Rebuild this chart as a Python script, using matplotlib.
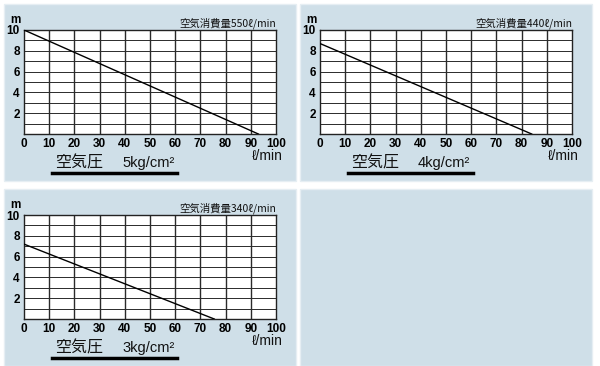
import matplotlib
matplotlib.use('Agg')
import matplotlib.pyplot as plt
from matplotlib.patches import Rectangle
from matplotlib.lines import Line2D

plt.rcParams['font.family'] = ['Noto Sans CJK JP', 'DejaVu Sans']

# data
flow_ends = [93, 84, 75.5]          # l/min where head reaches 0
head_starts = [10, 8.7, 7.2]        # m at 0 l/min
air_use = ['550', '440', '340']     # air consumption l/min
air_pressure = ['5', '4', '3']      # kg/cm2
x_ticks = [0, 10, 20, 30, 40, 50, 60, 70, 80, 90, 100]
y_ticks = [2, 4, 6, 8, 10]

W, H = 600, 366
fig = plt.figure(figsize=(W / 100, H / 100), dpi=100)
fig.patch.set_facecolor('white')

bg = '#cfdfe8'
# panel positions in pixels (left, top)
panels = [(4, 4), (300, 4), (4, 189), (300, 189)]
for (px, py) in panels:
    fig.patches.append(Rectangle((px / W, 1 - (py + 177) / H), 292 / W, 177 / H,
                                 transform=fig.transFigure, facecolor=bg,
                                 edgecolor='#e6eef3', lw=1, zorder=-10))

tick_font = dict(family='Liberation Sans', fontsize=8.5, fontweight='bold')


def fx(x):
    return x / W


def fy(y):
    return 1 - y / H


for i in range(3):
    px, py = panels[i]
    top = py + 26
    bot = py + 130
    ax = fig.add_axes([(px + 20) / W, 1 - bot / H, 252 / W, (bot - top) / H])
    ax.set_facecolor('white')
    ax.set_xlim(0, 100)
    ax.set_ylim(0, 10)
    for v in range(10, 100, 10):
        ax.axvline(v, color='#2a2a2a', lw=1.0, zorder=1)
    for h in range(1, 10):
        ax.axhline(h, color='#2a2a2a', lw=0.7, zorder=1)
    ax.plot([0, flow_ends[i]], [head_starts[i], 0], color='black', lw=1.0, zorder=3)
    for s in ax.spines.values():
        s.set_color('#222222')
        s.set_linewidth(1.0)
    ax.set_xticks(x_ticks)
    ax.set_xticklabels([str(t) for t in x_ticks], **tick_font)
    ax.set_yticks(y_ticks)
    ax.set_yticklabels([str(t) for t in y_ticks], **tick_font)
    ax.tick_params(length=0, pad=3)

    fig.text(fx(px + 11), fy(py + 16), 'm', ha='center', va='center',
             family='Liberation Sans', fontsize=8.5, fontweight='bold')
    fig.text(fx(px + 272), fy(py + 19), '空気消費量' + air_use[i] + 'ℓ/min',
             ha='right', va='center', fontsize=7.5, color='#111111')
    fig.text(fx(px + 279), fy(py + 152), 'ℓ/min', ha='right', va='center',
             family=['Liberation Sans', 'DejaVu Sans'], fontsize=10, color='#111111')
    fig.text(fx(px + 51), fy(py + 159), '空気圧', ha='left', va='center',
             fontsize=11.5, color='#111111')
    fig.text(fx(px + 118), fy(py + 159), air_pressure[i] + 'kg/cm²', ha='left',
             va='center', family=['Liberation Sans', 'DejaVu Sans'], fontsize=10.5,
             color='#111111')
    fig.lines.append(Line2D([fx(px + 48), fx(px + 173)], [fy(py + 169), fy(py + 169)],
                            transform=fig.transFigure, color='black', lw=2.5))

fig.savefig('out.png', dpi=100)
